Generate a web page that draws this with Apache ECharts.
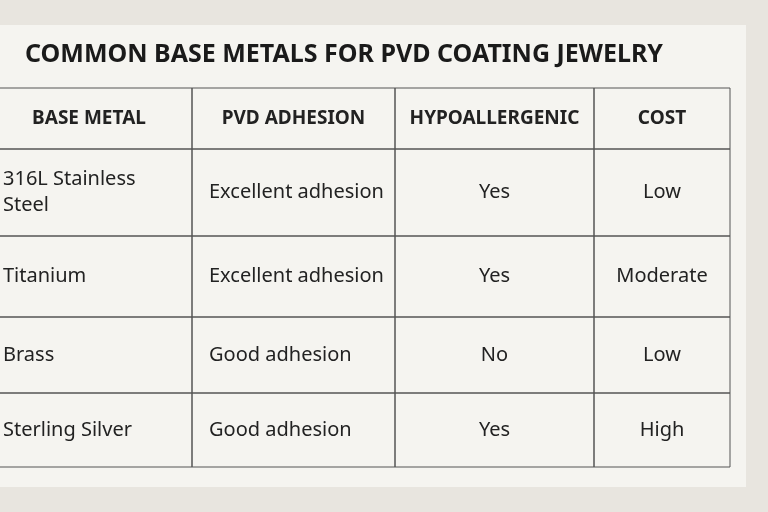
<!DOCTYPE html>
<html><head><meta charset="utf-8">
<script src="https://cdn.jsdelivr.net/npm/echarts@6/dist/echarts.min.js"></script>
<style>html,body{margin:0;padding:0;background:#e8e5df}#c{width:768px;height:512px}</style>
</head><body><div id="c"></div>
<script>
const title = "COMMON BASE METALS FOR PVD COATING JEWELRY";
const headers = ["BASE METAL","PVD ADHESION","HYPOALLERGENIC","COST"];
const baseMetals = ["316L Stainless\nSteel","Titanium","Brass","Sterling Silver"];
const adhesion = ["Excellent adhesion","Excellent adhesion","Good adhesion","Good adhesion"];
const hypoallergenic = ["Yes","Yes","No","Yes"];
const cost = ["Low","Moderate","Low","High"];

// layout (pixel-like coordinates on the value axes)
const colEdges = [-14,192,395,594,730];
const rowEdges = [88,149,236,317,393,467];
const colAlign = ['left','left','center','center'];

const rows = [headers];
for (let i=0;i<baseMetals.length;i++) rows.push([baseMetals[i],adhesion[i],hypoallergenic[i],cost[i]]);
const data = [];
rows.forEach((r,ri)=>r.forEach((t,ci)=>data.push([ri,ci,t])));

const chart = echarts.init(document.getElementById('c'));
chart.setOption({
  backgroundColor:'#e8e5df',
  animation:false,
  graphic:[
    {type:'rect',shape:{x:-10,y:25,width:756,height:462},style:{fill:'#f5f4f0'},z:-10},
    {type:'text',left:25,top:42,style:{text:title,font:'bold 25px "Noto Sans", Roboto, sans-serif',fill:'#1a1a1a'}}
  ],
  grid:{left:0,top:88,width:730,height:379},
  xAxis:{type:'value',min:0,max:730,show:false},
  yAxis:{type:'value',min:88,max:467,inverse:true,show:false},
  series:[{
    type:'custom',
    clip:false,
    data:data,
    renderItem:function(params,api){
      const ri=api.value(0), ci=api.value(1);
      const t=data[params.dataIndex][2];
      const p0=api.coord([colEdges[ci],rowEdges[ri]]);
      const p1=api.coord([colEdges[ci+1],rowEdges[ri+1]]);
      const head = ri===0;
      const align = head?'center':colAlign[ci];
      const tx = align==='center'?(p0[0]+p1[0])/2:p0[0]+17;
      return {type:'group',children:[
        {type:'rect',shape:{x:p0[0],y:p0[1],width:p1[0]-p0[0],height:p1[1]-p0[1]},
         style:{fill:'none',stroke:'#555',lineWidth:1}},
        {type:'text',style:{x:tx,y:(p0[1]+p1[1])/2,text:t,align:align,verticalAlign:'middle',
          fill:'#222',lineHeight:26,
          font:head?'bold 19px "Noto Sans", Roboto, sans-serif':'20px "Noto Sans", Roboto, sans-serif'}}
      ]};
    }
  }]
});
</script></body></html>
